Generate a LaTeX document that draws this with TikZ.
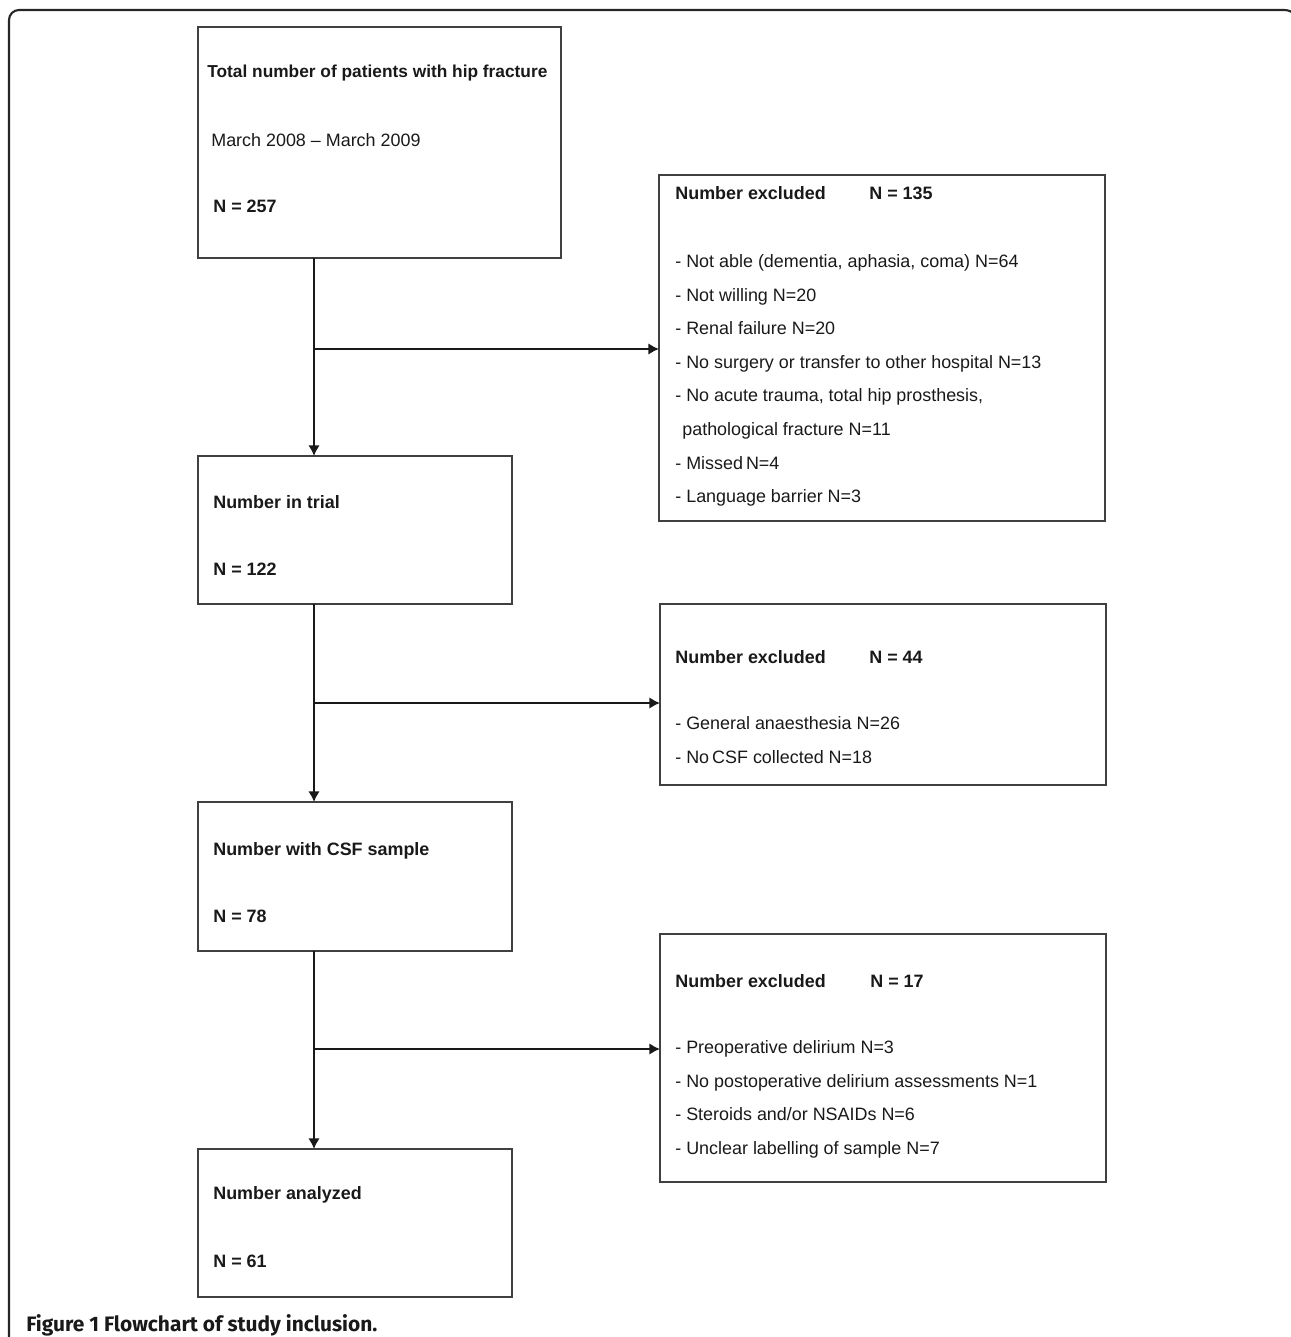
\documentclass[tikz,border=0pt]{standalone}
\usepackage{fontspec}
\setmainfont{Liberation Sans}
\newfontfamily\capfont{Fira Sans}
\usetikzlibrary{arrows.meta}

\tikzset{
    box/.style 2 args={draw=black!75, line width=1.1pt, inner sep=0pt, outer sep=0pt,
        minimum width=#1*0.02cm, minimum height=#2*0.02cm},
    txt/.style={anchor=base west, inner sep=0pt, text=black!90,
        font=\fontsize{10.2}{12}\selectfont},
    hd/.style={txt, font=\fontsize{10.2}{12}\selectfont\bfseries},
    arr/.style={draw=black!90, line width=1.1pt, -{Latex[length=6pt,width=6.5pt]}},
    frame/.style={draw=black!85, line width=1.2pt}
}

\begin{document}
\begin{tikzpicture}[x=0.02cm, y=-0.02cm]
    \useasboundingbox (0,0) rectangle (1290,1337);
    % outer frame
    \draw[frame] (9,1350) [rounded corners=0.2cm] -- (9,10)
        [rounded corners=0.32cm] -- (1300,10) -- (1300,1350);

    % main boxes
    \node[box={363}{231}] (tot) at (379.5,142.5) {};
    \node[box={314}{148}] (trial) at (355,530) {};
    \node[box={314}{149}] (csf) at (355,876.5) {};
    \node[box={314}{148}] (ana) at (355,1223) {};

    % exclusion boxes
    \node[box={446}{346}] (exa) at (882,348) {};
    \node[box={446}{181}] (exb) at (883,694.5) {};
    \node[box={446}{248}] (exc) at (883,1058) {};

    % texts, main column
    \node[hd, font=\fontsize{9.85}{12}\selectfont\bfseries] (tot1) at (207,78)
        {Total number of patients with hip fracture};
    \node[txt] (tot2) at (211,147) {March 2008 -- March 2009};
    \node[hd] (tot3) at (213,213) {N = 257};
    \node[hd] (trial1) at (213,508) {Number in trial};
    \node[hd] (trial2) at (213,575) {N = 122};
    \node[hd] (csf1) at (213,855) {Number with CSF sample};
    \node[hd] (csf2) at (213,922) {N = 78};
    \node[hd] (ana1) at (213,1199) {Number analyzed};
    \node[hd] (ana2) at (213,1267) {N = 61};

    % texts, first exclusion
    \node[hd] (exa0) at (675,200) {Number excluded};
    \node[hd] (exan) at (869,200) {N = 135};
    \node[txt] (exa1) at (675,268) {- Not able (dementia, aphasia, coma) N=64};
    \node[txt] (exa2) at (675,301.5) {- Not willing N=20};
    \node[txt] (exa3) at (675,335) {- Renal failure N=20};
    \node[txt] (exa4) at (675,368.5) {- No surgery or transfer to other hospital N=13};
    \node[txt] (exa5) at (675,402) {- No acute trauma, total hip prosthesis,};
    \node[txt] (exa6) at (682,435.5) {pathological fracture N=11};
    \node[txt] (exa7) at (675,469) {- Missed\,N=4};
    \node[txt] (exa8) at (675,502.5) {- Language barrier N=3};

    % texts, second exclusion
    \node[hd] (exb0) at (675,663) {Number excluded};
    \node[hd] (exbn) at (869,663) {N = 44};
    \node[txt] (exb1) at (675,729) {- General anaesthesia N=26};
    \node[txt] (exb2) at (675,763) {- No\,CSF collected N=18};

    % texts, third exclusion
    \node[hd] (exc0) at (675,987) {Number excluded};
    \node[hd] (excn) at (870,987) {N = 17};
    \node[txt] (exc1) at (675,1053) {- Preoperative delirium N=3};
    \node[txt] (exc2) at (675,1087) {- No postoperative delirium assessments N=1};
    \node[txt] (exc3) at (675,1120) {- Steroids and/or NSAIDs N=6};
    \node[txt] (exc4) at (675,1154) {- Unclear labelling of sample N=7};

    % connectors
    \coordinate (ja) at (314,349);
    \coordinate (jb) at (314,703);
    \coordinate (jc) at (314,1049);
    \draw[arr] (tot.south -| ja) -- (trial.north -| ja);
    \draw[arr] (ja) -- (ja -| exa.west);
    \draw[arr] (trial.south -| jb) -- (csf.north -| jb);
    \draw[arr] (jb) -- (jb -| exb.west);
    \draw[arr] (csf.south -| jc) -- (ana.north -| jc);
    \draw[arr] (jc) -- (jc -| exc.west);

    % caption
    \node[anchor=base west, inner sep=0pt, text=black!90,
        font=\capfont\fontsize{11.9}{14}\selectfont\bfseries] (cap) at (26,1331)
        {Figure 1 Flowchart of study inclusion.};
\end{tikzpicture}
\end{document}
